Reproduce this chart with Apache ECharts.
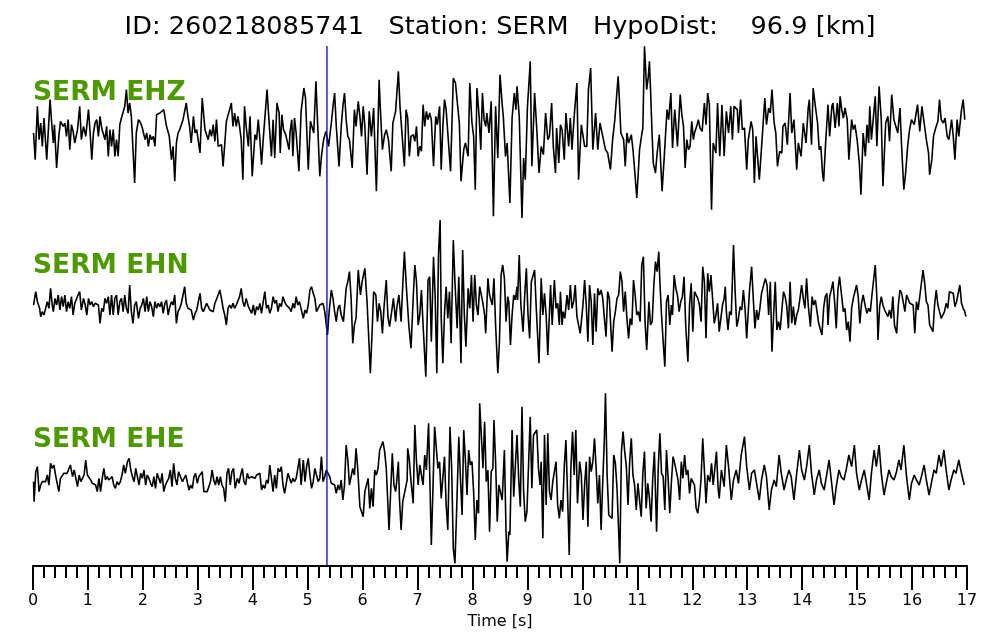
<!DOCTYPE html>
<html>
<head>
<meta charset="utf-8">
<title>SERM waveforms</title>
<script src="https://cdn.jsdelivr.net/npm/echarts@6/dist/echarts.min.js"></script>
<style>
  html, body { margin: 0; padding: 0; background: #fff; }
  #chart { width: 1000px; height: 640px; }
</style>
</head>
<body>
<div id="chart"></div>
<script>
// event / station info
var eventId = '260218085741';
var station = 'SERM';
var hypoDist = 96.9;      // km
var pickTime = 5.35;      // P pick, s
var timeMax = 17;
var channels = ['EHZ', 'EHN', 'EHE'];

// traces: [time s, amplitude counts]
var ehz = [[0.01,0],[0.04,-80],[0.08,80],[0.11,-20],[0.14,30],[0.17,-40],[0.20,45],[0.25,-80],[0.31,100],[0.34,30],[0.37,-30],[0.39,25],[0.43,-105],[0.47,-10],[0.50,35],[0.55,20],[0.58,30],[0.61,-10],[0.64,40],[0.67,-50],[0.70,25],[0.73,5],[0.76,-30],[0.81,10],[0.85,80],[0.88,-20],[0.92,20],[0.96,-10],[1.01,70],[1.04,0],[1.07,-80],[1.10,0],[1.13,30],[1.16,40],[1.19,-10],[1.22,50],[1.25,15],[1.28,20],[1.31,-20],[1.34,20],[1.37,-70],[1.40,10],[1.43,-40],[1.46,10],[1.49,-70],[1.52,-20],[1.55,-70],[1.58,25],[1.61,45],[1.64,50],[1.67,80],[1.70,130],[1.73,60],[1.76,90],[1.79,50],[1.85,-150],[1.88,0],[1.92,40],[1.96,30],[1.99,15],[2.04,-20],[2.07,0],[2.10,-40],[2.13,-5],[2.16,-20],[2.19,-10],[2.22,-40],[2.25,55],[2.28,50],[2.31,60],[2.34,55],[2.38,70],[2.43,20],[2.48,-10],[2.52,-80],[2.55,-40],[2.58,-145],[2.61,-30],[2.64,0],[2.67,10],[2.73,40],[2.79,90],[2.82,50],[2.85,20],[2.88,-30],[2.92,50],[2.95,0],[2.98,10],[3.01,-25],[3.04,-60],[3.08,105],[3.13,10],[3.16,15],[3.19,-20],[3.22,10],[3.25,-10],[3.28,25],[3.31,-25],[3.34,40],[3.37,-40],[3.40,-40],[3.43,-35],[3.46,-100],[3.52,35],[3.55,30],[3.61,90],[3.64,20],[3.67,60],[3.70,20],[3.73,50],[3.76,20],[3.79,-20],[3.82,-140],[3.85,80],[3.88,20],[3.92,-40],
  [3.95,50],[3.99,-130],[4.04,-5],[4.07,-20],[4.10,40],[4.13,-20],[4.16,-95],[4.19,-20],[4.22,-15],[4.26,130],[4.29,50],[4.32,55],[4.34,-70],[4.37,40],[4.40,-75],[4.44,90],[4.48,60],[4.50,-60],[4.53,55],[4.56,10],[4.60,-5],[4.62,-20],[4.66,-50],[4.68,5],[4.71,40],[4.73,-70],[4.76,45],[4.79,0],[4.84,-115],[4.88,65],[4.93,135],[4.96,105],[5.01,-110],[5.05,35],[5.08,30],[5.11,0],[5.15,155],[5.18,30],[5.22,-130],[5.25,-70],[5.29,-20],[5.33,5],[5.35,-10],[5.38,-40],[5.43,30],[5.46,80],[5.49,120],[5.52,20],[5.57,-100],[5.61,20],[5.64,80],[5.67,120],[5.70,40],[5.73,-10],[5.76,-20],[5.81,-105],[5.85,70],[5.88,20],[5.92,95],[5.95,50],[5.98,-10],[6.01,80],[6.04,20],[6.08,-125],[6.12,65],[6.16,-10],[6.20,75],[6.25,-175],[6.30,160],[6.32,80],[6.36,-50],[6.40,-5],[6.43,10],[6.47,-20],[6.52,-115],[6.55,30],[6.60,65],[6.65,185],[6.68,80],[6.71,85],[6.76,-100],[6.79,70],[6.82,45],[6.85,-70],[6.88,-10],[6.92,-5],[6.95,-25],[6.98,20],[7.01,-70],[7.04,-40],[7.07,-55],[7.10,85],[7.13,20],[7.16,65],[7.19,40],[7.22,60],[7.25,40],[7.29,-100],[7.33,50],[7.36,25],[7.40,80],[7.43,-110],[7.46,20],[7.49,100],[7.52,70],[7.55,0],[7.60,-115],[7.63,-110],[7.65,165],[7.69,150],[7.73,80],[7.76,30],[7.79,-145],[7.84,-50],[7.87,-30],[7.92,-70],[7.95,150],[7.99,30],[8.02,-10],[8.05,-170],[8.08,135],[8.12,50],[8.15,-50],[8.18,120],[8.21,40],[8.24,20],[8.26,60],[8.30,0],
  [8.34,95],[8.38,-250],[8.42,80],[8.46,-75],[8.50,175],[8.54,85],[8.56,50],[8.60,-70],[8.63,-30],[8.68,-210],[8.72,45],[8.76,120],[8.79,70],[8.81,140],[8.85,50],[8.90,-255],[8.93,-75],[8.96,-140],[9.00,80],[9.04,185],[9.05,215],[9.08,-100],[9.13,120],[9.17,10],[9.21,-120],[9.25,-40],[9.29,-65],[9.33,60],[9.37,-20],[9.40,-10],[9.44,90],[9.47,-40],[9.51,-120],[9.53,15],[9.57,-90],[9.60,25],[9.63,10],[9.67,-80],[9.70,60],[9.75,-40],[9.78,45],[9.81,-50],[9.85,50],[9.90,150],[9.93,-140],[9.98,25],[10.01,20],[10.04,-40],[10.08,-40],[10.11,130],[10.15,195],[10.19,-50],[10.24,60],[10.28,-50],[10.32,30],[10.37,-10],[10.42,-50],[10.46,-60],[10.51,-110],[10.55,-20],[10.59,40],[10.62,40],[10.65,170],[10.67,110],[10.70,0],[10.75,-20],[10.78,-100],[10.81,0],[10.84,-30],[10.89,-5],[10.92,-50],[10.95,-110],[10.99,-195],[11.04,-50],[11.08,-5],[11.10,15],[11.13,260],[11.17,130],[11.20,170],[11.22,215],[11.24,130],[11.27,-10],[11.29,-90],[11.33,-120],[11.36,-60],[11.40,-5],[11.45,-175],[11.49,-70],[11.54,70],[11.57,40],[11.61,120],[11.64,-45],[11.68,70],[11.70,30],[11.73,-40],[11.78,115],[11.81,55],[11.84,20],[11.87,-105],[11.90,-20],[11.93,-50],[11.96,-40],[11.99,35],[12.02,-20],[12.04,0],[12.08,20],[12.11,40],[12.14,15],[12.18,5],[12.20,50],[12.22,90],[12.25,25],[12.28,120],[12.31,85],[12.35,-230],[12.38,-30],[12.43,-60],[12.46,90],
  [12.50,-70],[12.54,85],[12.58,-70],[12.62,65],[12.66,0],[12.70,80],[12.73,-20],[12.76,80],[12.79,80],[12.82,70],[12.84,0],[12.88,100],[12.91,10],[12.95,15],[12.99,-110],[13.02,-20],[13.07,35],[13.10,10],[13.13,-150],[13.16,-10],[13.22,-140],[13.27,-20],[13.32,105],[13.35,25],[13.39,75],[13.42,60],[13.45,130],[13.49,30],[13.52,0],[13.55,-100],[13.59,-55],[13.63,-60],[13.65,20],[13.69,30],[13.73,-35],[13.78,120],[13.81,0],[13.85,40],[13.90,-110],[13.93,-30],[13.98,-70],[14.02,30],[14.07,-30],[14.11,75],[14.13,100],[14.17,-35],[14.20,135],[14.24,80],[14.28,30],[14.31,-50],[14.34,-40],[14.37,-120],[14.39,-145],[14.43,-20],[14.47,85],[14.50,-10],[14.54,80],[14.56,90],[14.60,15],[14.64,90],[14.67,20],[14.69,110],[14.72,70],[14.75,45],[14.78,75],[14.82,40],[14.85,-80],[14.90,40],[14.93,10],[14.96,25],[15.00,-20],[15.04,-90],[15.07,-185],[15.11,0],[15.15,-70],[15.18,25],[15.21,-30],[15.23,80],[15.26,-20],[15.29,-15],[15.33,110],[15.36,-40],[15.40,140],[15.44,40],[15.47,-160],[15.52,30],[15.56,50],[15.59,-25],[15.63,115],[15.67,40],[15.70,45],[15.74,0],[15.78,75],[15.81,-40],[15.85,-170],[15.88,-125],[15.92,-40],[15.95,5],[15.99,40],[16.04,25],[16.07,55],[16.10,85],[16.14,5],[16.18,80],[16.22,30],[16.26,-20],[16.30,-60],[16.32,-125],[16.36,-80],[16.39,-10],[16.43,15],[16.47,35],[16.50,100],[16.53,40],[16.57,30],[16.60,45],[16.64,-10],[16.67,-20],[16.72,40],[16.75,-10],[16.78,-80],[16.82,40],[16.85,-10],[16.90,70],[16.93,100],[16.96,40]];

var ehn = [[0.01,0],[0.05,40],[0.08,10],[0.12,-10],[0.14,-35],[0.17,-20],[0.20,-30],[0.23,-10],[0.26,10],[0.29,-10],[0.32,50],[0.35,0],[0.37,-20],[0.40,20],[0.43,0],[0.46,30],[0.49,-15],[0.52,25],[0.55,-5],[0.58,30],[0.61,-20],[0.64,10],[0.67,-10],[0.70,25],[0.73,-30],[0.76,5],[0.79,0],[0.82,30],[0.85,40],[0.88,-15],[0.92,20],[0.95,0],[0.98,-30],[1.01,20],[1.04,0],[1.07,10],[1.10,-5],[1.13,5],[1.16,0],[1.19,0],[1.22,-55],[1.25,-10],[1.28,-20],[1.31,20],[1.34,5],[1.37,25],[1.40,-30],[1.43,30],[1.46,-30],[1.49,20],[1.52,30],[1.55,-30],[1.58,10],[1.61,20],[1.64,-20],[1.67,30],[1.70,-10],[1.73,-25],[1.76,60],[1.79,-20],[1.82,-55],[1.85,0],[1.88,10],[1.92,-40],[1.95,-10],[1.98,0],[2.01,20],[2.04,-20],[2.07,25],[2.10,-20],[2.13,10],[2.16,-5],[2.19,-35],[2.22,10],[2.25,-10],[2.28,5],[2.31,-5],[2.34,10],[2.37,-25],[2.40,5],[2.43,15],[2.46,-30],[2.49,-5],[2.52,10],[2.55,0],[2.58,30],[2.61,-55],[2.64,-20],[2.67,-10],[2.70,5],[2.73,30],[2.76,55],[2.79,5],[2.82,-10],[2.85,-5],[2.88,-15],[2.92,-45],[2.95,-25],[2.98,-15],[3.01,10],[3.04,35],[3.07,-10],[3.10,-20],[3.13,-25],[3.16,5],[3.19,-5],[3.22,-15],[3.25,-10],[3.28,-20],[3.31,5],[3.34,10],[3.37,30],[3.40,45],[3.43,20],[3.46,-10],[3.49,-30],[3.52,-60],[3.55,-10],[3.58,0],[3.61,-10],[3.64,5],[3.67,-10],[3.70,0],[3.73,5],[3.76,25],[3.79,50],[3.82,10],[3.85,-5],[3.88,20],[3.92,-5],[3.95,0],
  [3.98,-25],[4.01,0],[4.04,-30],[4.07,-5],[4.10,-15],[4.13,5],[4.16,-25],[4.19,10],[4.22,40],[4.25,-10],[4.28,0],[4.31,-25],[4.34,-10],[4.37,25],[4.40,5],[4.43,15],[4.46,-20],[4.49,5],[4.52,-5],[4.55,25],[4.58,10],[4.61,0],[4.64,-5],[4.67,-10],[4.70,-20],[4.73,5],[4.76,-10],[4.79,25],[4.82,0],[4.85,10],[4.88,5],[4.92,-40],[4.95,-15],[4.98,-25],[5.01,0],[5.04,45],[5.07,55],[5.10,35],[5.13,20],[5.16,-20],[5.19,-15],[5.22,0],[5.25,-5],[5.28,5],[5.31,-20],[5.34,-15],[5.36,-90],[5.39,-20],[5.43,45],[5.46,20],[5.49,-20],[5.52,-50],[5.55,-10],[5.58,0],[5.61,-30],[5.65,-50],[5.70,50],[5.73,70],[5.76,100],[5.79,20],[5.82,-115],[5.85,-60],[5.88,-40],[5.92,105],[5.96,30],[5.99,70],[6.04,110],[6.08,10],[6.11,-95],[6.14,-205],[6.17,-90],[6.20,40],[6.24,30],[6.27,-50],[6.30,5],[6.33,-20],[6.36,-85],[6.39,-5],[6.43,75],[6.46,-35],[6.49,-65],[6.52,-30],[6.56,20],[6.60,-50],[6.62,-10],[6.66,30],[6.70,-50],[6.73,60],[6.76,160],[6.79,70],[6.84,-60],[6.88,-130],[6.92,20],[6.95,120],[6.98,70],[7.01,-60],[7.04,-30],[7.07,45],[7.10,-60],[7.15,-215],[7.19,75],[7.22,85],[7.25,-110],[7.29,145],[7.32,25],[7.35,-205],[7.38,150],[7.41,255],[7.43,-40],[7.46,-175],[7.49,-25],[7.52,55],[7.55,-40],[7.58,40],[7.61,-115],[7.65,195],[7.68,70],[7.72,-70],[7.75,85],[7.79,-175],[7.82,165],[7.85,-25],[7.88,-125],[7.92,50],[7.95,-10],[7.98,90],[8.01,-50],[8.04,90],[8.07,0],[8.10,-30],[8.13,55],
  [8.16,55],[8.19,5],[8.22,-30],[8.24,-85],[8.28,80],[8.31,30],[8.34,30],[8.36,0],[8.39,80],[8.42,-60],[8.46,-205],[8.49,-110],[8.52,90],[8.55,120],[8.58,80],[8.61,-50],[8.64,25],[8.66,10],[8.69,-120],[8.72,-30],[8.75,30],[8.78,15],[8.81,55],[8.82,15],[8.85,150],[8.88,0],[8.92,-80],[8.95,30],[8.98,110],[9.01,-30],[9.04,-100],[9.07,70],[9.10,75],[9.13,105],[9.16,-10],[9.21,-175],[9.25,80],[9.28,-30],[9.31,35],[9.34,-30],[9.37,-150],[9.42,60],[9.45,-60],[9.49,75],[9.52,-10],[9.55,5],[9.58,-60],[9.60,40],[9.63,-60],[9.65,-20],[9.68,-40],[9.72,30],[9.75,-15],[9.78,60],[9.81,-10],[9.84,10],[9.87,60],[9.90,-35],[9.93,-60],[9.96,-85],[10.01,0],[10.04,75],[10.07,0],[10.10,-110],[10.13,60],[10.16,10],[10.19,-120],[10.22,35],[10.25,-80],[10.28,50],[10.31,30],[10.34,45],[10.37,20],[10.40,-40],[10.43,-95],[10.46,40],[10.49,20],[10.52,-80],[10.54,-140],[10.57,-50],[10.60,-20],[10.63,20],[10.66,30],[10.69,100],[10.72,70],[10.75,-20],[10.78,40],[10.81,-40],[10.84,-100],[10.87,-40],[10.90,-60],[10.93,75],[10.96,30],[10.99,-30],[11.02,-20],[11.05,-50],[11.08,120],[11.11,145],[11.14,-50],[11.17,-135],[11.21,10],[11.24,-60],[11.27,-50],[11.30,60],[11.33,130],[11.36,100],[11.39,160],[11.41,70],[11.44,-30],[11.47,-110],[11.50,-185],[11.53,10],[11.56,30],[11.59,-60],[11.62,0],[11.64,-30],[11.67,90],[11.70,50],[11.73,30],[11.76,-20],[11.79,10],[11.82,25],[11.85,85],[11.88,-60],[11.92,-170],[11.95,0],[11.98,65],[12.01,-80],[12.04,40],[12.07,45],[12.10,20],[12.13,0],[12.16,-50],[12.19,115],[12.22,70],[12.25,-100],[12.28,95],[12.31,40],
  [12.34,90],[12.37,95],[12.40,-55],[12.43,-30],[12.46,5],[12.49,-80],[12.52,-40],[12.55,0],[12.58,20],[12.60,55],[12.62,-20],[12.65,-75],[12.68,-20],[12.71,-30],[12.75,180],[12.78,40],[12.81,-65],[12.84,-40],[12.87,-5],[12.90,-15],[12.93,45],[12.96,-10],[12.99,-100],[13.04,40],[13.08,115],[13.11,20],[13.14,-70],[13.17,-15],[13.20,-45],[13.23,-10],[13.26,35],[13.29,30],[13.33,80],[13.36,60],[13.39,-30],[13.42,70],[13.45,-140],[13.48,-30],[13.51,70],[13.54,-75],[13.57,-50],[13.60,-75],[13.63,-15],[13.66,40],[13.69,25],[13.72,-5],[13.75,-70],[13.78,70],[13.81,-55],[13.84,-5],[13.87,-60],[13.90,-30],[13.93,-15],[13.96,20],[13.99,60],[14.02,20],[14.05,-10],[14.08,80],[14.11,0],[14.15,-65],[14.18,25],[14.21,0],[14.24,15],[14.27,-20],[14.30,-55],[14.33,-60],[14.36,-90],[14.39,-10],[14.42,25],[14.45,35],[14.47,-60],[14.50,25],[14.53,45],[14.56,70],[14.59,10],[14.62,-70],[14.65,45],[14.68,85],[14.71,40],[14.75,-20],[14.78,-10],[14.81,-75],[14.84,-50],[14.87,-110],[14.90,-10],[14.93,20],[14.96,25],[14.99,60],[15.02,25],[15.05,-55],[15.08,5],[15.11,30],[15.15,-5],[15.18,-25],[15.21,-10],[15.24,-20],[15.27,30],[15.30,35],[15.33,120],[15.36,20],[15.38,-105],[15.41,-5],[15.44,25],[15.47,0],[15.50,-15],[15.53,-20],[15.56,-35],[15.59,-15],[15.62,-40],[15.65,25],[15.68,-60],[15.72,-85],[15.75,0],[15.78,45],[15.81,35],[15.84,30],[15.87,-20],[15.90,30],[15.93,35],[15.96,5],[15.99,10],[16.02,0],[16.05,-85],[16.08,10],[16.11,-15],[16.14,25],[16.17,30],[16.20,105],[16.23,65],[16.26,10],[16.29,0],[16.32,-60],[16.35,-65],[16.38,-80],[16.41,0],[16.44,45],[16.47,0],[16.50,-20],[16.53,-40],[16.56,-45],[16.59,-20],[16.62,5],[16.65,-10],[16.68,40],[16.71,40],[16.75,35],[16.78,-5],[16.81,10],[16.84,10],[16.87,60],[16.90,5],[16.93,-10],[16.96,-20],[16.98,-35]];

var ehe = [[0.01,-5],[0.02,-65],[0.05,25],[0.08,40],[0.11,-35],[0.14,-15],[0.17,-5],[0.20,0],[0.23,-5],[0.26,15],[0.29,-15],[0.32,50],[0.35,35],[0.38,45],[0.41,15],[0.44,20],[0.47,-35],[0.50,5],[0.53,0],[0.56,20],[0.59,15],[0.62,20],[0.65,15],[0.68,45],[0.72,10],[0.75,30],[0.78,25],[0.81,-20],[0.84,15],[0.87,-5],[0.90,5],[0.93,15],[0.96,60],[0.99,15],[1.02,10],[1.05,0],[1.08,-10],[1.11,-15],[1.14,-15],[1.17,-35],[1.20,5],[1.23,-35],[1.26,5],[1.29,35],[1.32,0],[1.35,10],[1.38,0],[1.41,0],[1.44,10],[1.47,-15],[1.50,-25],[1.53,-5],[1.56,-15],[1.59,-5],[1.62,15],[1.65,45],[1.68,20],[1.72,55],[1.75,65],[1.78,30],[1.81,10],[1.84,-5],[1.87,35],[1.90,10],[1.93,-15],[1.96,20],[1.99,5],[2.02,30],[2.05,-15],[2.08,15],[2.11,5],[2.14,-10],[2.17,-20],[2.20,10],[2.23,-25],[2.26,20],[2.29,5],[2.32,-10],[2.35,20],[2.38,-35],[2.41,-15],[2.44,-5],[2.47,5],[2.50,30],[2.53,-20],[2.56,50],[2.59,5],[2.62,-15],[2.65,25],[2.68,30],[2.72,-5],[2.75,-10],[2.78,15],[2.81,10],[2.84,-30],[2.87,-15],[2.90,-25],[2.93,10],[2.96,20],[2.99,-10],[3.02,10],[3.05,15],[3.08,25],[3.11,-35],[3.14,-30],[3.17,-35],[3.20,-20],[3.23,-5],[3.26,30],[3.29,0],[3.32,-15],[3.35,10],[3.38,-15],[3.41,10],[3.44,-15],[3.47,-25],[3.50,-65],[3.53,20],[3.56,35],[3.59,-15],[3.62,25],[3.65,35],[3.68,-25],[3.72,5],[3.75,-10],[3.78,15],[3.81,35],[3.84,-5],[3.87,-15],[3.90,20],[3.93,5],
  [3.98,10],[4.01,15],[4.04,5],[4.07,15],[4.10,10],[4.13,20],[4.16,-30],[4.19,-15],[4.22,-25],[4.25,0],[4.28,-10],[4.31,45],[4.34,5],[4.37,-35],[4.40,15],[4.43,-25],[4.46,35],[4.49,25],[4.52,40],[4.55,-15],[4.58,-40],[4.61,-10],[4.64,20],[4.67,25],[4.70,-10],[4.73,5],[4.76,-5],[4.79,5],[4.82,0],[4.85,65],[4.88,-15],[4.92,60],[4.95,-5],[4.98,40],[5.01,65],[5.04,15],[5.07,-25],[5.10,-5],[5.13,35],[5.16,40],[5.19,-5],[5.22,5],[5.25,70],[5.28,-5],[5.31,10],[5.34,30],[5.37,20],[5.40,10],[5.43,-10],[5.46,-5],[5.49,-15],[5.52,-40],[5.55,-15],[5.58,-30],[5.61,0],[5.64,-60],[5.67,-15],[5.70,105],[5.73,60],[5.76,-15],[5.79,-20],[5.82,35],[5.85,15],[5.88,95],[5.91,35],[5.95,-80],[5.98,-85],[6.01,-110],[6.04,-35],[6.07,-30],[6.10,5],[6.13,-85],[6.16,-25],[6.19,-80],[6.22,30],[6.25,15],[6.28,35],[6.31,90],[6.34,95],[6.37,115],[6.40,85],[6.43,35],[6.48,-150],[6.51,-35],[6.54,80],[6.57,-15],[6.60,-35],[6.62,-5],[6.65,55],[6.67,-55],[6.70,-150],[6.73,-65],[6.76,-60],[6.81,0],[6.82,95],[6.85,60],[6.88,-5],[6.92,-70],[6.95,165],[6.98,55],[7.01,-15],[7.04,45],[7.07,15],[7.10,-15],[7.13,75],[7.16,30],[7.20,170],[7.25,-195],[7.28,-25],[7.31,160],[7.34,155],[7.37,35],[7.40,55],[7.43,-55],[7.46,-55],[7.49,70],[7.52,-75],[7.55,-150],[7.59,160],[7.62,35],[7.65,-205],[7.68,-250],[7.71,-95],[7.75,130],[7.78,5],[7.81,-105],[7.84,150],[7.87,60],[7.90,-45],[7.93,90],[7.96,45],[7.99,55],[8.02,-35],[8.05,-180],[8.08,-60],[8.11,-100],
  [8.13,230],[8.16,135],[8.19,35],[8.22,175],[8.25,-5],[8.28,30],[8.31,-155],[8.34,25],[8.37,35],[8.39,180],[8.42,55],[8.45,-125],[8.48,-15],[8.51,-10],[8.54,-60],[8.58,90],[8.61,-155],[8.63,-245],[8.66,-155],[8.68,-165],[8.72,150],[8.75,-50],[8.78,45],[8.81,135],[8.84,5],[8.87,-80],[8.90,220],[8.93,-35],[8.96,-125],[8.99,-95],[9.02,-95],[9.05,190],[9.08,-25],[9.11,135],[9.14,130],[9.17,150],[9.20,35],[9.23,-15],[9.25,55],[9.28,-175],[9.31,135],[9.34,-75],[9.37,140],[9.40,-35],[9.43,-60],[9.46,-5],[9.49,0],[9.52,55],[9.55,-75],[9.58,-115],[9.61,-60],[9.64,-95],[9.67,40],[9.70,120],[9.73,-45],[9.76,-225],[9.79,35],[9.82,145],[9.85,15],[9.88,150],[9.91,-70],[9.95,55],[9.98,15],[10.01,-120],[10.04,-15],[10.07,55],[10.10,-140],[10.13,70],[10.16,25],[10.19,55],[10.22,125],[10.25,35],[10.28,-70],[10.31,15],[10.34,-150],[10.37,-5],[10.40,125],[10.42,260],[10.45,15],[10.48,-105],[10.51,-100],[10.54,-115],[10.57,75],[10.60,50],[10.63,-25],[10.66,-155],[10.68,-250],[10.71,85],[10.74,145],[10.77,85],[10.80,40],[10.83,-75],[10.86,55],[10.89,125],[10.92,15],[10.95,-15],[10.98,-90],[11.01,-10],[11.04,-5],[11.07,-110],[11.10,20],[11.13,85],[11.16,-85],[11.19,-10],[11.22,-55],[11.25,-125],[11.28,5],[11.31,85],[11.35,-155],[11.38,35],[11.41,140],[11.44,20],[11.47,10],[11.50,-90],[11.53,90],[11.56,5],[11.59,-100],[11.62,-5],[11.65,70],[11.68,50],[11.71,25],[11.74,0],[11.77,-60],[11.80,55],[11.83,5],[11.86,75],[11.89,15],[11.92,30],[11.95,-40],[11.98,5],[12.01,-5],[12.04,-15],[12.07,-85],[12.10,-100],[12.13,-60],[12.16,5],[12.19,125],[12.22,30],[12.25,-70],[12.28,15],[12.32,-5],[12.35,50],[12.38,-15],[12.41,-20],[12.44,85],[12.47,-25],[12.49,-55],
  [12.53,30],[12.58,-20],[12.62,105],[12.66,40],[12.71,-60],[12.75,0],[12.80,30],[12.84,-10],[12.89,75],[12.95,130],[12.99,40],[13.04,-30],[13.08,20],[13.13,30],[13.17,-10],[13.22,-60],[13.26,0],[13.31,45],[13.35,10],[13.40,-90],[13.44,-30],[13.49,0],[13.53,-20],[13.58,75],[13.62,20],[13.67,-30],[13.71,0],[13.76,30],[13.80,10],[13.85,-60],[13.90,20],[13.95,90],[13.99,30],[14.04,0],[14.08,40],[14.13,105],[14.17,20],[14.22,-45],[14.26,0],[14.31,30],[14.35,-10],[14.40,-30],[14.44,10],[14.49,60],[14.53,0],[14.58,-75],[14.62,-20],[14.67,30],[14.71,10],[14.76,0],[14.80,30],[14.85,75],[14.90,40],[14.95,105],[14.99,20],[15.04,-30],[15.08,0],[15.13,30],[15.17,-10],[15.22,-60],[15.26,20],[15.31,90],[15.35,40],[15.40,105],[15.44,20],[15.49,-45],[15.53,-10],[15.58,30],[15.62,10],[15.67,0],[15.71,20],[15.76,60],[15.80,30],[15.85,105],[15.90,10],[15.95,-60],[15.99,-10],[16.04,15],[16.08,0],[16.13,-15],[16.17,10],[16.22,45],[16.26,0],[16.31,-45],[16.35,-10],[16.40,30],[16.44,20],[16.49,75],[16.53,40],[16.58,90],[16.62,30],[16.67,-30],[16.71,0],[16.76,30],[16.80,20],[16.85,60],[16.90,20],[16.95,-15]];

var traces = [ehz, ehn, ehe];
var ampRange = 261;            // shared amplitude limits of each panel
var panelTops = [46, 218, 393];
var panelHeight = 174;
var labelTops = [80, 253, 427];
var green = '#4c9900';

var myChart = echarts.init(document.getElementById('chart'));

var grids = [{ left: 33, right: 33, top: 46, height: 520 }];   // frame + time axis
var xAxes = [
  { gridIndex: 0, type: 'value', min: 0, max: timeMax, position: 'top',
    axisLine: { show: true, lineStyle: { color: '#000', width: 1.5 } },
    axisTick: { show: false }, axisLabel: { show: false }, splitLine: { show: false } },
  { gridIndex: 0, type: 'value', min: 0, max: timeMax, interval: 1, position: 'bottom',
    name: 'Time [s]', nameLocation: 'middle', nameGap: 41,
    nameTextStyle: { color: '#000', fontSize: 16, fontFamily: 'DejaVu Sans' },
    axisLine: { show: true, lineStyle: { color: '#000', width: 2 } },
    axisTick: { show: true, length: 24, lineStyle: { color: '#000', width: 2 } },
    minorTick: { show: true, splitNumber: 5, length: 12, lineStyle: { color: '#000', width: 2 } },
    axisLabel: { color: '#000', fontSize: 16, margin: 27, fontFamily: 'DejaVu Sans' },
    splitLine: { show: false } }
];
var yAxes = [{ gridIndex: 0, type: 'value', min: 0, max: 1, show: false }];
var titles = [{
  text: 'ID: ' + eventId + '   Station: ' + station + '   HypoDist:    ' + hypoDist.toFixed(1) + ' [km]',
  left: 'center', top: 14, padding: 0,
  textStyle: { color: '#000', fontSize: 25.6, fontWeight: 'normal', fontFamily: 'DejaVu Sans' }
}];
var series = [];

for (var i = 0; i < traces.length; i++) {
  grids.push({ left: 33, right: 33, top: panelTops[i], height: panelHeight });
  xAxes.push({ gridIndex: i + 1, type: 'value', min: 0, max: timeMax, show: false });
  yAxes.push({ gridIndex: i + 1, type: 'value', min: -ampRange, max: ampRange, show: false });
  titles.push({
    text: station + ' ' + channels[i], left: 33, top: labelTops[i], padding: 0,
    textStyle: { color: green, fontSize: 26.5, fontWeight: 'bold', fontFamily: 'DejaVu Sans' }
  });
  series.push({
    name: channels[i], type: 'line', xAxisIndex: i + 2, yAxisIndex: i + 1,
    data: traces[i], showSymbol: false, symbol: 'none', sampling: null,
    lineStyle: { color: '#000', width: 1.6 }, z: 2
  });
}

// P pick marker across all panels
series.push({
  name: 'P', type: 'line', xAxisIndex: 0, yAxisIndex: 0,
  data: [[pickTime, 0], [pickTime, 1]], showSymbol: false, symbol: 'none',
  lineStyle: { color: '#1010e0', width: 1.4 }, z: 5
});

myChart.setOption({
  animation: false,
  backgroundColor: '#fff',
  title: titles,
  grid: grids,
  xAxis: xAxes,
  yAxis: yAxes,
  series: series
});
</script>
</body>
</html>
